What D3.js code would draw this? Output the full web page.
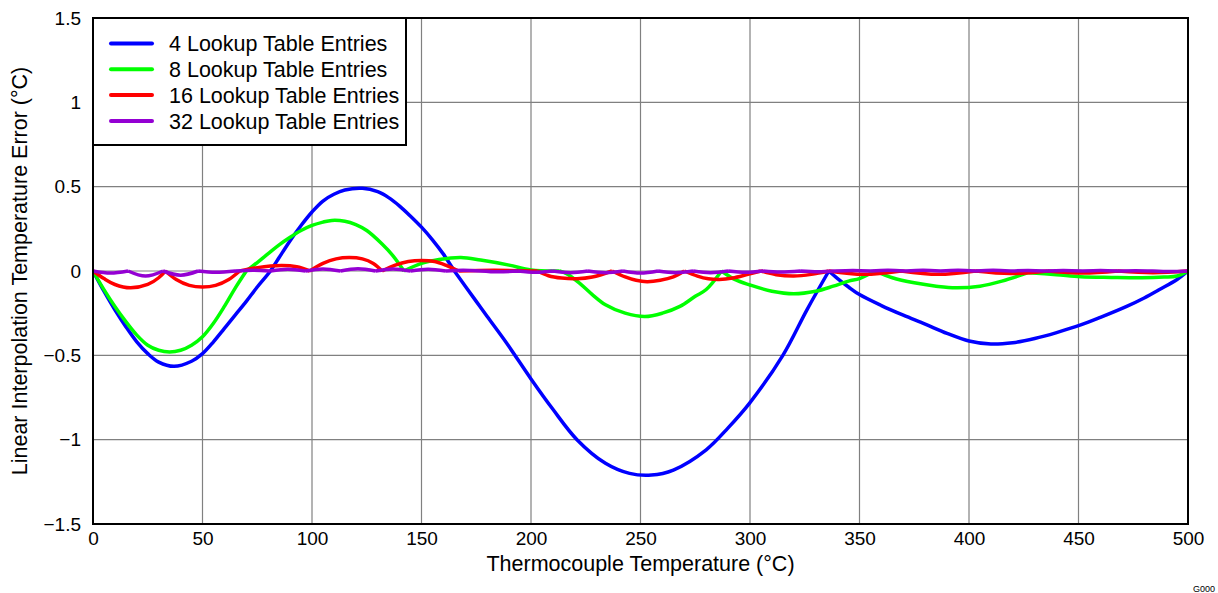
<!DOCTYPE html>
<html>
<head>
<meta charset="utf-8">
<script src="https://cdn.jsdelivr.net/npm/d3@7"></script>
<style>
  body { margin: 0; background: #fff; }
  svg text { font-family: "Liberation Sans", Arial, sans-serif; fill: #000; }
</style>
</head>
<body>
<svg id="chart" width="1218" height="593"></svg>
<script>
// x ticks / y ticks
var xTicks = [0, 50, 100, 150, 200, 250, 300, 350, 400, 450, 500];
var yTicks = [-1.5, -1, -0.5, 0, 0.5, 1, 1.5];

var seriesNames = ['4 Lookup Table Entries', '8 Lookup Table Entries', '16 Lookup Table Entries', '32 Lookup Table Entries'];
var seriesColors = ['#0000ff', '#00ff00', '#ff0000', '#9400d3'];

// 4 entries
var blueT = [0, 5, 10, 15, 20, 25, 30, 37, 45, 50, 55, 60, 65, 70, 75, 81, 85, 90, 95, 100, 105, 110, 115, 123, 130, 135, 140, 145, 150, 155, 160, 165,
  170, 175, 180, 189, 200, 210, 221, 234, 245, 255, 265, 280, 290, 300, 315, 326, 336,
  340, 345, 350, 360, 370, 380, 390, 400, 410, 420, 430, 440, 451, 460, 472, 480, 487, 495, 500];
var blueErr = [0, -0.12, -0.23, -0.33, -0.42, -0.49, -0.54, -0.565, -0.535, -0.49, -0.42, -0.34, -0.26, -0.18, -0.095, 0, 0.08, 0.18, 0.27, 0.35, 0.415, 0.455, 0.48, 0.49, 0.47, 0.435, 0.385, 0.325, 0.26, 0.185, 0.10, 0,
  -0.09, -0.18, -0.27, -0.43, -0.64, -0.82, -1.0, -1.14, -1.2, -1.21, -1.18, -1.06, -0.93, -0.78, -0.5, -0.23, 0,
  -0.045, -0.095, -0.14, -0.205, -0.262, -0.315, -0.37, -0.415, -0.433, -0.425, -0.4, -0.365, -0.32, -0.275, -0.21, -0.16, -0.11, -0.05, 0];
var blueNodes = [0, 165, 336, 500];

// 8 entries
var greenT = [0, 5, 10, 15, 20, 25, 30, 35, 40, 45, 50, 55, 60, 65, 70,
  75, 80, 85, 90, 95, 100, 105, 109, 115, 120, 125, 132, 137, 142,
  150, 158, 168, 177, 190, 200, 213,
  216, 222, 228, 234, 243, 252, 260, 268, 275, 280, 287,
  293, 300, 310, 320, 330, 338, 345, 350, 357,
  365, 375, 385, 394, 405, 415, 427,
  440, 451, 465, 479, 489, 495, 500];
var greenErr = [0, -0.11, -0.21, -0.3, -0.38, -0.44, -0.47, -0.48, -0.47, -0.44, -0.39, -0.31, -0.21, -0.1, 0,
  0.05, 0.103, 0.155, 0.2, 0.24, 0.27, 0.29, 0.3, 0.295, 0.275, 0.24, 0.16, 0.09, 0,
  0.045, 0.068, 0.08, 0.065, 0.035, 0.006, 0,
  -0.014, -0.07, -0.14, -0.2, -0.25, -0.27, -0.25, -0.21, -0.15, -0.11, 0,
  -0.05, -0.083, -0.12, -0.135, -0.12, -0.09, -0.06, -0.045, 0,
  -0.04, -0.07, -0.09, -0.1, -0.09, -0.06, -0.01,
  -0.022, -0.034, -0.038, -0.04, -0.036, -0.03, 0];
var greenNodes = [0, 70, 142, 213, 287, 357, 427, 500];

// 16 entries
var redT = [0, 5, 10, 17, 25, 30, 33,
  38, 44, 50, 56, 62, 67,
  75, 86, 93, 99,
  105, 111, 117, 123, 128, 132,
  138, 144, 150, 156, 161, 167,
  183, 203,
  208, 214, 221, 228, 237,
  243, 248, 253, 259, 265, 270,
  276, 281, 286, 292, 299, 305,
  312, 320, 328, 336,
  352, 369, 386, 403, 419, 436, 452, 468, 484, 500];
var redErr = [0, -0.045, -0.08, -0.1, -0.08, -0.04, 0,
  -0.05, -0.085, -0.095, -0.085, -0.05, 0,
  0.02, 0.032, 0.025, 0,
  0.045, 0.072, 0.08, 0.072, 0.045, 0,
  0.035, 0.056, 0.062, 0.056, 0.035, 0,
  0.004, 0,
  -0.028, -0.042, -0.046, -0.036, 0,
  -0.035, -0.055, -0.063, -0.055, -0.035, 0,
  -0.03, -0.046, -0.05, -0.042, -0.02, 0,
  -0.022, -0.03, -0.02, 0,
  -0.02, 0, -0.02, 0, -0.015, 0, -0.012, 0, -0.01, 0];
var redNodes = [0, 33, 67, 99, 132, 167, 203, 237, 270, 305, 336, 369, 403, 436, 468, 500];

// 32 entries
var purpleT = [0, 8, 16, 24, 32, 40, 48, 56, 65, 73, 81, 89, 97, 105, 113, 121, 129, 137, 145, 153, 161, 169, 177, 185, 194, 202, 210, 218, 226, 234, 242,
  250, 258, 266, 274, 282, 290, 298, 306, 314, 323, 331, 339, 347, 355, 363, 371, 379, 387, 395, 403, 411, 419, 427, 435, 443, 452, 460, 468, 476, 484, 492, 500];
var purpleErr = [0, -0.012, 0, -0.03, 0, -0.025, 0, -0.008, 0, 0.005, 0, 0.01, 0, 0.012, 0, 0.014, 0, 0.012, 0, 0.01, 0, 0.005, 0, -0.005, 0, -0.008, 0, -0.01, 0, -0.01, 0,
  -0.012, 0, -0.01, 0, -0.01, 0, -0.008, 0, -0.006, 0, -0.004, 0, 0.003, 0, 0.004, 0, 0.005, 0, 0.004, 0, 0.004, 0, 0.003, 0, 0.003, 0, 0.003, 0, 0.002, 0, -0.003, 0];
var purpleNodes = [0, 16, 32, 48, 65, 81, 97, 113, 129, 145, 161, 177, 194, 210, 226, 242, 258, 274, 290, 306, 323, 339, 355, 371, 387, 403, 419, 435, 452, 468, 484, 500];

var plotLeft = 93, plotRight = 1188, plotTop = 18, plotBottom = 524;
var svg = d3.select('#chart');

var x = d3.scaleLinear().domain([0, 500]).range([plotLeft, plotRight]);
var y = d3.scaleLinear().domain([-1.5, 1.5]).range([plotBottom, plotTop]);

function fmt(v) {
  return d3.format('')(v).replace('-', '\u2212');
}

// split a series into pieces between table nodes, so every piece is smooth
// and the kinks stay at the nodes
function splitAtNodes(ts, vs, nodes) {
  var pieces = [], cur = [];
  for (var i = 0; i < ts.length; i++) {
    cur.push([ts[i], vs[i]]);
    if (i > 0 && nodes.indexOf(ts[i]) >= 0) {
      pieces.push(cur);
      cur = [[ts[i], vs[i]]];
    }
  }
  if (cur.length > 1) pieces.push(cur);
  return pieces;
}

// grid
var grid = svg.append('g');
grid.selectAll('.gx')
  .data(xTicks.slice(1, -1))
  .enter().append('line')
  .attr('x1', d => x(d)).attr('x2', d => x(d))
  .attr('y1', plotTop).attr('y2', plotBottom)
  .attr('stroke', '#808080').attr('stroke-width', 1.2);
grid.selectAll('.gy')
  .data(yTicks.slice(1, -1))
  .enter().append('line')
  .attr('x1', plotLeft).attr('x2', plotRight)
  .attr('y1', d => y(d)).attr('y2', d => y(d))
  .attr('stroke', '#808080').attr('stroke-width', 1.2);

// tick labels via d3 axes (no domain / tick lines)
svg.append('g')
  .attr('transform', 'translate(0,' + plotBottom + ')')
  .call(d3.axisBottom(x).tickValues(xTicks).tickSize(0).tickPadding(8).tickFormat(fmt));
svg.append('g')
  .attr('transform', 'translate(' + plotLeft + ',0)')
  .call(d3.axisLeft(y).tickValues(yTicks).tickSize(0).tickPadding(12).tickFormat(fmt));
svg.selectAll('.domain').remove();
svg.selectAll('.tick text').attr('font-size', 19).attr('font-family', '"Liberation Sans", Arial, sans-serif');

// curves
var line = d3.line()
  .x(d => x(d[0]))
  .y(d => y(d[1]))
  .curve(d3.curveCatmullRom.alpha(0.5));

var series = [
  splitAtNodes(blueT, blueErr, blueNodes),
  splitAtNodes(greenT, greenErr, greenNodes),
  splitAtNodes(redT, redErr, redNodes),
  splitAtNodes(purpleT, purpleErr, purpleNodes)
];

svg.append('defs').append('clipPath').attr('id', 'plotclip')
  .append('rect').attr('x', plotLeft).attr('y', plotTop)
  .attr('width', plotRight - plotLeft).attr('height', plotBottom - plotTop);

svg.append('g').attr('clip-path', 'url(#plotclip)')
  .selectAll('path')
  .data(series)
  .enter().append('path')
  .attr('d', pieces => pieces.map(p => line(p)).join(''))
  .attr('fill', 'none')
  .attr('stroke', (d, i) => seriesColors[i])
  .attr('stroke-width', 3.5)
  .attr('stroke-linejoin', 'round');

// legend
var legend = svg.append('g');
legend.append('rect')
  .attr('x', plotLeft).attr('y', plotTop)
  .attr('width', 313).attr('height', 127)
  .attr('fill', '#fff').attr('stroke', '#000').attr('stroke-width', 2);
var rows = legend.selectAll('.row')
  .data(seriesNames)
  .enter().append('g')
  .attr('transform', (d, i) => 'translate(0,' + (43.5 + i * 25.8) + ')');
rows.append('line')
  .attr('x1', 111).attr('x2', 152)
  .attr('stroke', (d, i) => seriesColors[i])
  .attr('stroke-width', 4)
  .attr('stroke-linecap', 'round');
rows.append('text')
  .attr('x', 169).attr('dy', '0.36em')
  .attr('font-size', 21.5)
  .text(d => d);

// frame
svg.append('rect')
  .attr('x', plotLeft).attr('y', plotTop)
  .attr('width', plotRight - plotLeft).attr('height', plotBottom - plotTop)
  .attr('fill', 'none').attr('stroke', '#000').attr('stroke-width', 2);

// titles
svg.append('text')
  .attr('x', (plotLeft + plotRight) / 2).attr('y', 571)
  .attr('text-anchor', 'middle').attr('font-size', 21.5)
  .text('Thermocouple Temperature (°C)');
svg.append('text')
  .attr('transform', 'translate(27,' + ((plotTop + plotBottom) / 2) + ') rotate(-90)')
  .attr('text-anchor', 'middle').attr('font-size', 21.5)
  .text('Linear Interpolation Temperature Error (°C)');
svg.append('text')
  .attr('x', 1215).attr('y', 592)
  .attr('text-anchor', 'end').attr('font-size', 9)
  .text('G000');
</script>
</body>
</html>
